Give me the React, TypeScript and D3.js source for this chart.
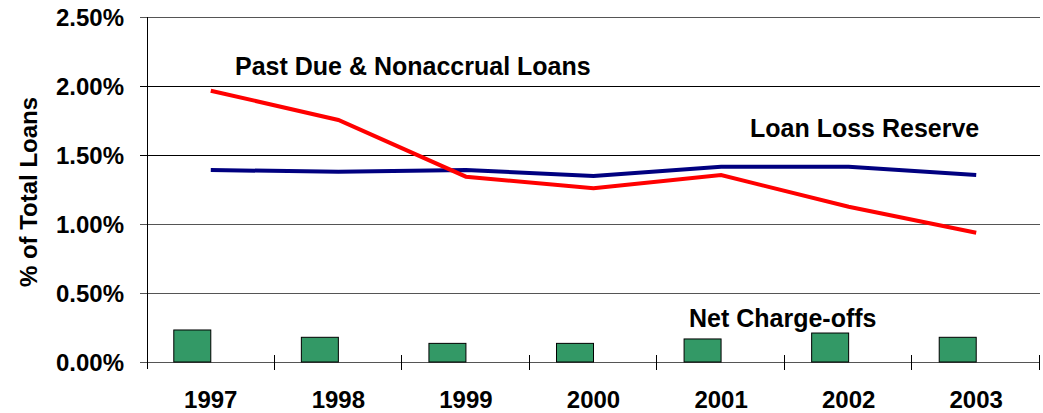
import React, { useEffect, useRef } from 'react';
import * as d3 from 'd3';

const years = ['1997', '1998', '1999', '2000', '2001', '2002', '2003'];
const pastDue = [1.966, 1.754, 1.343, 1.259, 1.355, 1.125, 0.937];
const lossReserve = [1.391, 1.379, 1.391, 1.348, 1.415, 1.415, 1.355];
const chargeOffs = [0.232, 0.179, 0.135, 0.135, 0.167, 0.21, 0.179];
const yTicks = [0, 0.5, 1.0, 1.5, 2.0, 2.5];

const LoanChart = () => {
  const ref = useRef<SVGSVGElement | null>(null);
  const width = 1043;
  const height = 413;
  const margin = { top: 17, right: 3, bottom: 51, left: 147 };

  useEffect(() => {
    const svg = d3.select(ref.current);
    svg.selectAll('*').remove();

    const font = "'Liberation Sans', Arial, sans-serif";

    const x = d3
      .scaleBand()
      .domain(years)
      .range([margin.left, width - margin.right])
      .paddingInner(0)
      .paddingOuter(0);

    const y = d3
      .scaleLinear()
      .domain([0, 2.5])
      .range([height - margin.bottom, margin.top]);

    const xc = (yr: string) => (x(yr) as number) + x.bandwidth() / 2;
    const baseY = y(0);

    // Gridlines + y ticks
    yTicks.forEach((t) => {
      svg
        .append('line')
        .attr('x1', margin.left - 7)
        .attr('x2', width - margin.right)
        .attr('y1', Math.round(y(t)) + 0.5)
        .attr('y2', Math.round(y(t)) + 0.5)
        .attr('stroke', t === 1.5 || t === 2.0 ? '#000' : '#555')
        .attr('stroke-width', 1);

      svg
        .append('text')
        .attr('x', 124)
        .attr('y', y(t))
        .attr('dy', '0.36em')
        .attr('text-anchor', 'end')
        .style('font-family', font)
        .style('font-weight', 'bold')
        .style('font-size', '24px')
        .text(`${t.toFixed(2)}%`);
    });

    // Bars (Net Charge-offs), sitting left of category centre
    const barW = x.bandwidth() * 0.29;
    svg
      .selectAll('rect.bar')
      .data(chargeOffs)
      .enter()
      .append('rect')
      .attr('class', 'bar')
      .attr('x', (d, i) => xc(years[i]) - barW)
      .attr('y', (d) => y(d))
      .attr('width', barW)
      .attr('height', (d) => baseY - y(d))
      .attr('fill', '#339966')
      .attr('stroke', '#000')
      .attr('stroke-width', 1);

    const line = d3
      .line<number>()
      .x((d, i) => xc(years[i]))
      .y((d) => y(d));

    svg
      .append('path')
      .datum(lossReserve)
      .attr('fill', 'none')
      .attr('stroke', '#000080')
      .attr('stroke-width', 4)
      .attr('d', line);

    svg
      .append('path')
      .datum(pastDue)
      .attr('fill', 'none')
      .attr('stroke', '#FF0000')
      .attr('stroke-width', 4)
      .attr('d', line);

    // Axis lines
    svg
      .append('line')
      .attr('x1', margin.left + 0.5)
      .attr('x2', margin.left + 0.5)
      .attr('y1', margin.top)
      .attr('y2', baseY + 7)
      .attr('stroke', '#000');

    years.concat(['end']).forEach((yr, i) => {
      if (i === 0) return;
      const tx = i < years.length ? (x(yr) as number) : width - margin.right;
      svg
        .append('line')
        .attr('x1', Math.round(tx) - 0.5)
        .attr('x2', Math.round(tx) - 0.5)
        .attr('y1', baseY - 7)
        .attr('y2', baseY + 8)
        .attr('stroke', '#000');
    });

    // Year labels
    years.forEach((yr) => {
      svg
        .append('text')
        .attr('x', xc(yr))
        .attr('y', 408)
        .attr('text-anchor', 'middle')
        .style('font-family', font)
        .style('font-weight', 'bold')
        .style('font-size', '24px')
        .text(yr);
    });

    // Y axis title
    svg
      .append('text')
      .attr('transform', `translate(28, 192) rotate(-90)`)
      .attr('text-anchor', 'middle')
      .attr('dy', '0.36em')
      .style('font-family', font)
      .style('font-weight', 'bold')
      .style('font-size', '24px')
      .text('% of Total Loans');

    // Series labels
    const labels = [
      { text: 'Past Due & Nonaccrual Loans', x: 235, y: 75 },
      { text: 'Loan Loss Reserve', x: 750, y: 137 },
      { text: 'Net Charge-offs', x: 689, y: 327 },
    ];
    labels.forEach((l) => {
      svg
        .append('text')
        .attr('x', l.x)
        .attr('y', l.y)
        .style('font-family', font)
        .style('font-weight', 'bold')
        .style('font-size', '25px')
        .text(l.text);
    });
  }, []);

  return (
    <svg
      ref={ref}
      width={width}
      height={height}
      style={{ position: 'absolute', left: 0, top: 0, background: '#fff' }}
    />
  );
};

export default function App() {
  return <LoanChart />;
}
